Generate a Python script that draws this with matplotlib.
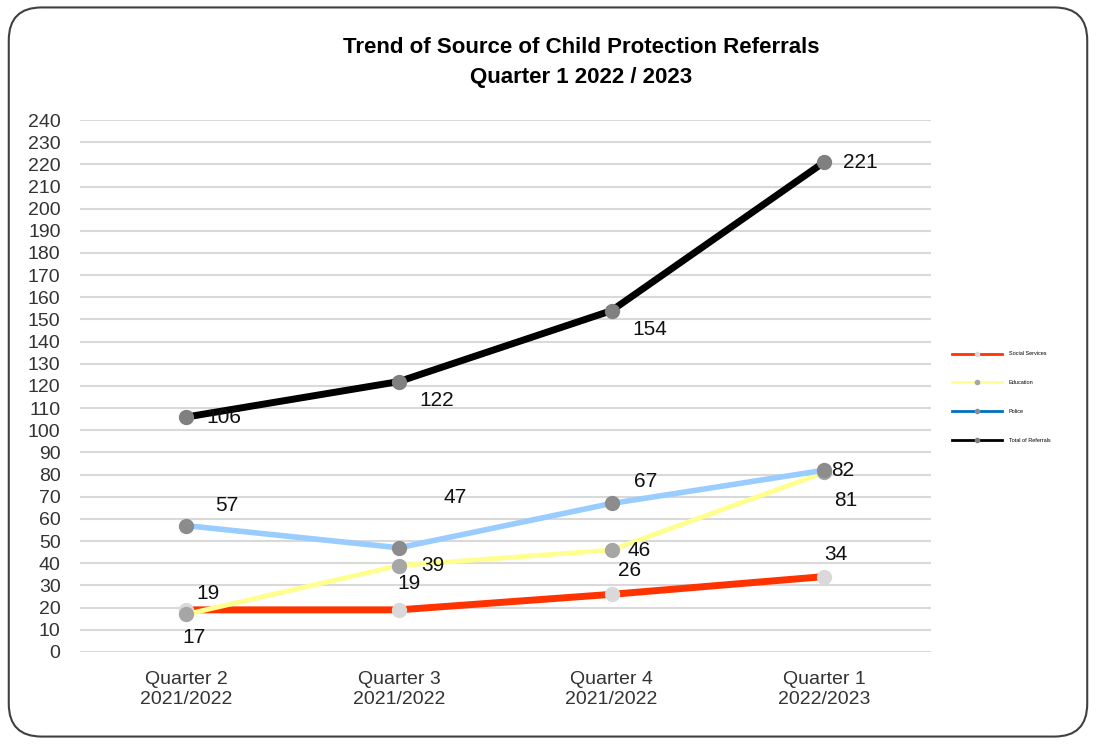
import matplotlib
matplotlib.use('Agg')
import matplotlib.pyplot as plt
from matplotlib.patches import FancyBboxPatch
from matplotlib.lines import Line2D

plt.rcParams['font.family'] = ['Liberation Sans Narrow', 'Liberation Sans', 'DejaVu Sans']

quarters = ['Quarter 2\n2021/2022', 'Quarter 3\n2021/2022', 'Quarter 4\n2021/2022', 'Quarter 1\n2022/2023']
social = [19, 19, 26, 34]
education = [17, 39, 46, 81]
police = [57, 47, 67, 82]
total = [106, 122, 154, 221]
names = ['Social Services', 'Education', 'Police', 'Total of Referrals']

# label offsets in pixels (dx, dy) per point
off_social = [(22, 16), (10, 26), (18, 24), (12, 22)]
off_edu = [(8, -23), (34, 0), (28, 0), (22, -28)]
off_police = [(40, 20), (56, 50), (34, 22), (18, 0)]
off_total = [(38, 0), (38, -19), (38, -19), (36, 0)]

fig = plt.figure(figsize=(10.96, 7.44), dpi=100)
border = FancyBboxPatch((0.008, 0.01), 0.984, 0.98, boxstyle='round,pad=0,rounding_size=0.03',
                        transform=fig.transFigure, fill=False, ec='#404040', lw=1.5,
                        mutation_aspect=1096/744)
fig.patches.append(border)

ax = fig.add_axes([0.073, 0.1237, 0.776, 0.715])
x = range(len(quarters))

series = [
    (social, '#FF3300', 5, '#D9D9D9', off_social),
    (education, '#FFFF8F', 3.5, '#A6A6A6', off_edu),
    (police, '#99CCFF', 4, '#8C8C8C', off_police),
    (total, '#000000', 5, '#808080', off_total),
]
for vals, col, lw, mcol, offs in series:
    ax.plot(x, vals, color=col, lw=lw, marker='o', ms=10, mfc=mcol, mec=mcol, zorder=3)
    for i, v in enumerate(vals):
        ax.annotate(str(v), (i, v), xytext=offs[i], textcoords='offset pixels',
                    ha='center', va='center', fontsize=15, color='#111111', zorder=4)

ax.set_xlim(-0.5, 3.5)
ax.set_ylim(0, 240)
ax.set_yticks(range(0, 241, 10))
ax.set_xticks(list(x))
ax.set_xticklabels(quarters)
ax.tick_params(axis='both', length=0, labelsize=14, colors='#333333')
ax.tick_params(axis='x', pad=14)
ax.tick_params(axis='y', pad=14)
ax.grid(axis='y', color='#D9D9D9', lw=1.5)
ax.set_axisbelow(True)
for s in ax.spines.values():
    s.set_visible(False)

fig.text(0.53, 0.916, 'Trend of Source of Child Protection Referrals\nQuarter 1 2022 / 2023',
         ha='center', va='center', fontsize=16, fontweight='bold', linespacing=1.6)

handles = [
    Line2D([], [], color='#FF3300', lw=2, marker='o', ms=3, mfc='#D9D9D9', mec='#D9D9D9'),
    Line2D([], [], color='#FFFF8F', lw=2, marker='o', ms=3, mfc='#A6A6A6', mec='#A6A6A6'),
    Line2D([], [], color='#0070C0', lw=2, marker='o', ms=3, mfc='#8C8C8C', mec='#8C8C8C'),
    Line2D([], [], color='#000000', lw=2, marker='o', ms=3, mfc='#808080', mec='#808080'),
]
fig.legend(handles, names, loc='center left', bbox_to_anchor=(0.864, 0.466), frameon=False,
           fontsize=4, handlelength=9, labelspacing=4.3, handletextpad=1.2)

fig.savefig('out.png', dpi=100)
